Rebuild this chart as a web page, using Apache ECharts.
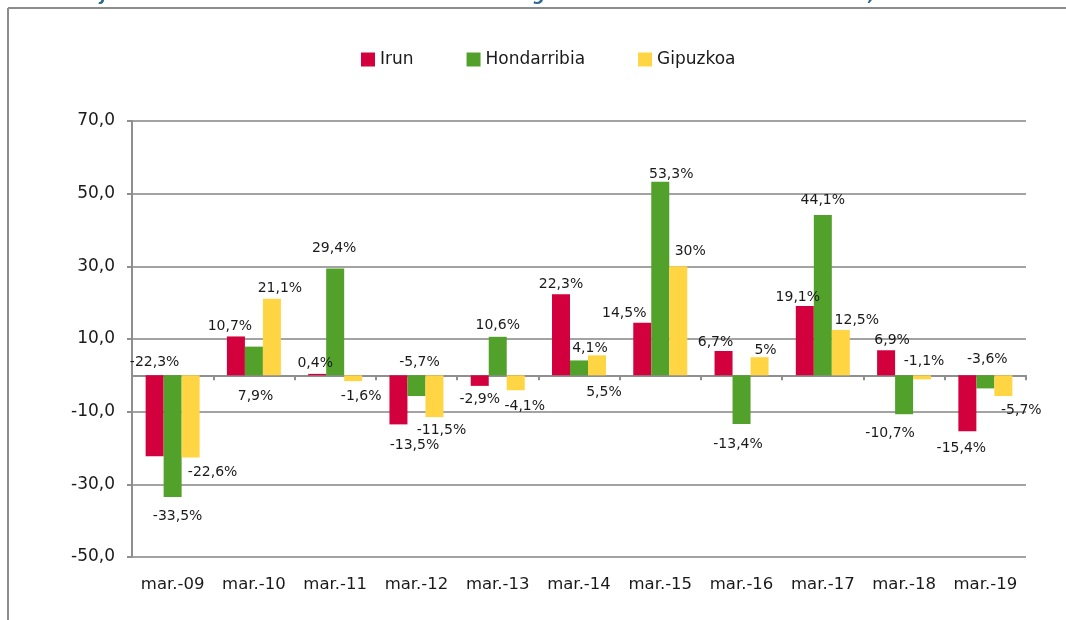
<!DOCTYPE html>
<html><head><meta charset="utf-8">
<script src="https://cdn.jsdelivr.net/npm/echarts@6/dist/echarts.min.js"></script>
<style>html,body{margin:0;padding:0;background:#fff}#c{width:1066px;height:620px}</style>
</head><body><div id="c"></div>
<script>
// ---- data ----
const categories = ['mar.-09','mar.-10','mar.-11','mar.-12','mar.-13','mar.-14','mar.-15','mar.-16','mar.-17','mar.-18','mar.-19'];
const irun        = [-22.3, 10.7, 0.4, -13.5, -2.9, 22.3, 14.5, 6.7, 19.1, 6.9, -15.4];
const hondarribia = [-33.5, 7.9, 29.4, -5.7, 10.6, 4.1, 53.3, -13.4, 44.1, -10.7, -3.6];
const gipuzkoa    = [-22.6, 21.1, -1.6, -11.5, -4.1, 5.5, 30, 5, 12.5, -1.1, -5.7];
const yTickLabels = ['-50,0','-30,0','-10,0','10,0','30,0','50,0','70,0'];
const seriesNames = ['Irun','Hondarribia','Gipuzkoa'];

// ---- label placement (style only): side t/b of bar, distance, x shift ----
const labelIrun = [['t',4,0],['t',2,-6],['t',2.5,-2],['b',12,16],['b',4.6,0],['t',1,0],['t',1,-18],['t',0,-8],['t',0.4,-7],['t',1,6],['b',8.4,-6]];
const labelHond = [['b',11.2,5],['b',12.8,1.6],['t',12,-1],['t',4,3],['t',3.3,0],['t',4,11],['t',-1,11],['b',11.4,-3.5],['t',6.5,0],['b',10.5,-14],['t',7,2]];
const labelGip  = [['b',6.9,22],['t',2,8],['b',7,8],['b',4.3,7],['b',8,9],['b',8.4,7],['t',6,12],['t',-1.3,6],['t',0.7,16],['t',5.2,2],['b',6,18]];

const FONT = 'DejaVu Sans';
const colors = ['#D2003C','#52A12A','#FFD543'];
const fmtPct = v => String(v).replace('.', ',') + '%';

function buildData(vals, layout) {
  return vals.map((v, i) => {
    const [side, d, dx] = layout[i];
    return {
      value: v,
      label: {
        position: side === 't' ? 'top' : 'bottom',
        distance: 0,
        offset: [dx, side === 't' ? -d : d]
      }
    };
  });
}

const chart = echarts.init(document.getElementById('c'), null, {renderer: 'canvas'});
const mkSeries = (name, vals, layout, color) => ({
  name, type: 'bar', data: buildData(vals, layout),
  barWidth: 18, barGap: '0%',
  itemStyle: {color},
  label: {show: true, formatter: p => fmtPct(p.value), fontFamily: FONT, fontSize: 14, lineHeight: 17, color: '#1a1a1a'}
});

chart.setOption({
  animation: false,
  backgroundColor: '#fff',
  title: {
    text: 'Porcentaje de variación interanual de los contratos registrados durante el mes de marzo,',
    left: 10, top: -18,
    textStyle: {fontFamily: FONT, fontSize: 17, fontStyle: 'italic', fontWeight: 'bold', color: '#2D6A8E'}
  },
  graphic: [
    {type: 'line', shape: {x1: 8, y1: 8, x2: 1066, y2: 8}, style: {stroke: '#8c8c8c', lineWidth: 2}, silent: true, z: -1},
    {type: 'line', shape: {x1: 8, y1: 8, x2: 8, y2: 620}, style: {stroke: '#8c8c8c', lineWidth: 2}, silent: true, z: -1}
  ],
  legend: {
    data: seriesNames, left: 356, top: 46, itemWidth: 14, itemHeight: 14, itemGap: 53, icon: 'rect',
    textStyle: {fontFamily: FONT, fontSize: 17, color: '#1a1a1a'}
  },
  grid: {left: 132, right: 40, top: 121, bottom: 63, containLabel: false},
  xAxis: [
    {
      type: 'category', data: categories, position: 'bottom',
      axisLine: {show: false, onZero: false}, axisTick: {show: false},
      axisLabel: {interval: 0, fontFamily: FONT, fontSize: 16.5, color: '#1a1a1a', margin: 19}
    },
    {
      type: 'category', data: categories, position: 'bottom',
      axisLine: {show: true, onZero: true, lineStyle: {color: '#8f8f8f', width: 2}},
      axisTick: {show: true, length: 5, interval: 0, lineStyle: {color: '#8f8f8f', width: 2}},
      axisLabel: {show: false}
    }
  ],
  yAxis: {
    type: 'value', min: -50, max: 70, interval: 20,
    axisLine: {show: true, lineStyle: {color: '#8f8f8f', width: 2}},
    axisTick: {show: true, length: 5, lineStyle: {color: '#8f8f8f', width: 2}},
    axisLabel: {fontFamily: FONT, fontSize: 17, color: '#1a1a1a', margin: 17,
      formatter: v => { const s = v.toFixed(1).replace('.', ','); return yTickLabels.includes(s) ? s : ''; }},
    splitLine: {show: true, lineStyle: {color: '#a3a3a3', width: 2}}
  },
  series: [
    mkSeries(seriesNames[0], irun, labelIrun, colors[0]),
    mkSeries(seriesNames[1], hondarribia, labelHond, colors[1]),
    mkSeries(seriesNames[2], gipuzkoa, labelGip, colors[2])
  ]
});
</script>
</body></html>
